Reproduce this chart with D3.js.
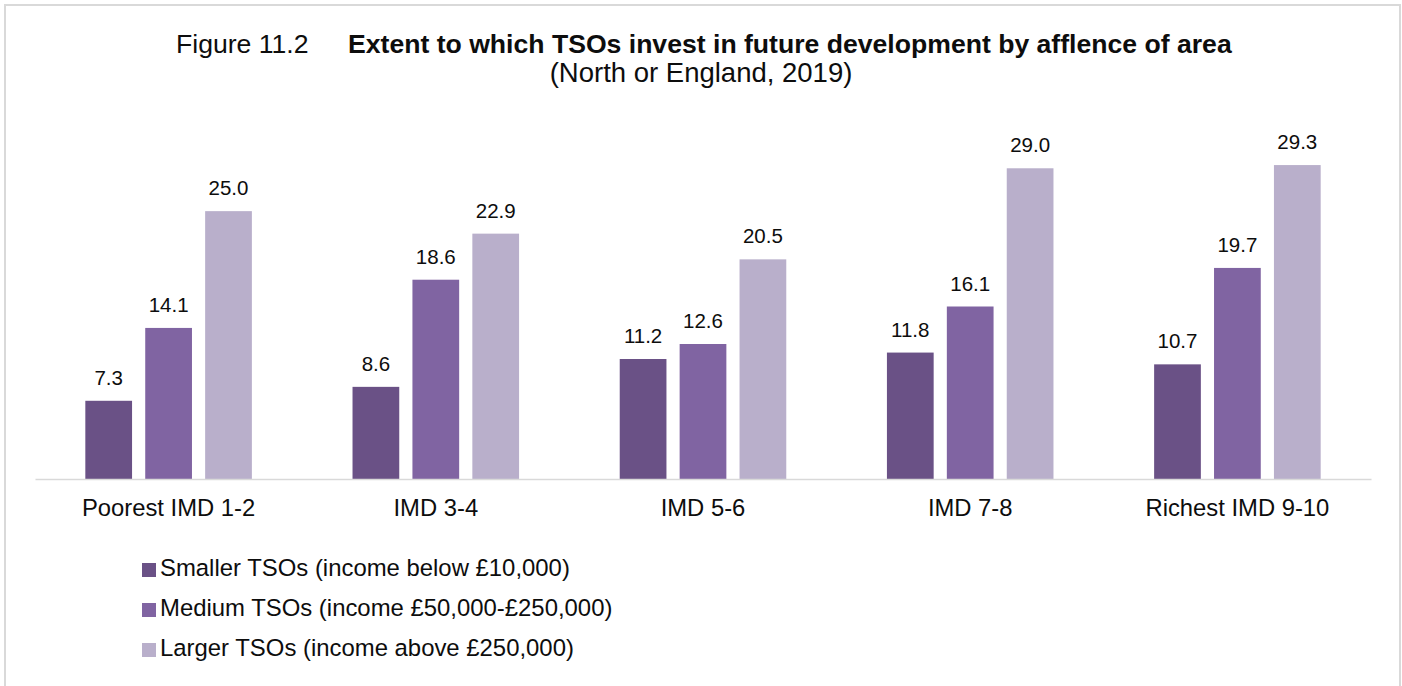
<!DOCTYPE html>
<meta charset="utf-8">
<script src="https://d3js.org/d3.v7.min.js"></script>
<style>
  body { margin: 0; background: #fff; }
  text { font-family: "Liberation Sans", Arial, sans-serif; fill: #0d0d0d; }
</style>
<div id="screen"></div>
<script>

  // data
  var categories = ["Poorest IMD 1-2", "IMD 3-4", "IMD 5-6", "IMD 7-8", "Richest IMD 9-10"];
  var seriesNames = ["Smaller TSOs (income below £10,000)",
                     "Medium TSOs (income £50,000-£250,000)",
                     "Larger TSOs (income above £250,000)"];
  var smaller = [7.3, 8.6, 11.2, 11.8, 10.7];
  var medium  = [14.1, 18.6, 12.6, 16.1, 19.7];
  var larger  = [25.0, 22.9, 20.5, 29.0, 29.3];
  var colors = ["#6a5186", "#8064a2", "#b9afcb"];

  var width = 1402, height = 686;

  var svg = d3.select("#screen")
      .append("svg")
      .attr("width", width)
      .attr("height", height);

  // chart area border
  svg.append("rect")
      .attr("x", 5).attr("y", 5)
      .attr("width", 1395).attr("height", 700)
      .attr("fill", "#fff")
      .attr("stroke", "#d9d9d9")
      .attr("stroke-width", 2);

  // title
  var title = svg.append("text")
      .attr("y", 53)
      .style("font-size", "26.6px");
  title.append("tspan").attr("x", 176).text("Figure 11.2");
  title.append("tspan").attr("x", 348).style("font-weight", "bold")
      .text("Extent to which TSOs invest in future development by afflence of area");
  svg.append("text")
      .attr("x", 701).attr("y", 82)
      .attr("text-anchor", "middle")
      .style("font-size", "27.5px")
      .text("(North or England, 2019)");

  // scales
  var x0 = d3.scaleBand()
      .domain(categories)
      .range([35, 1371]);

  var x1 = d3.scaleBand()
      .domain(d3.range(seriesNames.length))
      .range([0, x0.bandwidth()])
      .paddingInner(0.22)
      .paddingOuter(0.84);

  var y = d3.scaleLinear()
      .domain([0, 35])
      .range([479, 104]);

  var table = categories.map(function(c, i) {
      return { cat: c, values: [smaller[i], medium[i], larger[i]] };
  });

  var groups = svg.selectAll(".grp")
      .data(table)
      .enter().append("g")
      .attr("class", "grp")
      .attr("transform", function(d) { return "translate(" + x0(d.cat) + ",0)"; });

  groups.selectAll("rect")
      .data(function(d) { return d.values; })
      .enter().append("rect")
      .attr("x", function(d, i) { return x1(i); })
      .attr("y", function(d) { return y(d); })
      .attr("width", x1.bandwidth())
      .attr("height", function(d) { return y(0) - y(d); })
      .attr("fill", function(d, i) { return colors[i]; });

  groups.selectAll(".lbl")
      .data(function(d) { return d.values; })
      .enter().append("text")
      .attr("class", "lbl")
      .attr("x", function(d, i) { return x1(i) + x1.bandwidth() / 2; })
      .attr("y", function(d) { return y(d) - 16; })
      .attr("text-anchor", "middle")
      .style("font-size", "20.5px")
      .text(function(d) { return d.toFixed(1); });

  // x axis
  var xAxis = svg.append("g")
      .attr("transform", "translate(0," + y(0) + ")")
      .call(d3.axisBottom(x0).tickSize(0).tickPadding(18));
  xAxis.select(".domain").attr("stroke", "#d9d9d9").attr("stroke-width", 1.5);
  xAxis.selectAll("text")
      .style("font-size", "23.8px")
      .attr("fill", "#0d0d0d")
      .attr("dy", "0.71em")
      .attr("y", 20.5);

  // legend
  var legend = svg.selectAll(".leg")
      .data(seriesNames)
      .enter().append("g")
      .attr("class", "leg")
      .attr("transform", function(d, i) { return "translate(142," + (563 + i * 40) + ")"; });
  legend.append("rect")
      .attr("width", 14).attr("height", 14)
      .attr("fill", function(d, i) { return colors[i]; });
  legend.append("text")
      .attr("x", 18).attr("y", 13)
      .style("font-size", "23.9px")
      .text(function(d) { return d; });

</script>
